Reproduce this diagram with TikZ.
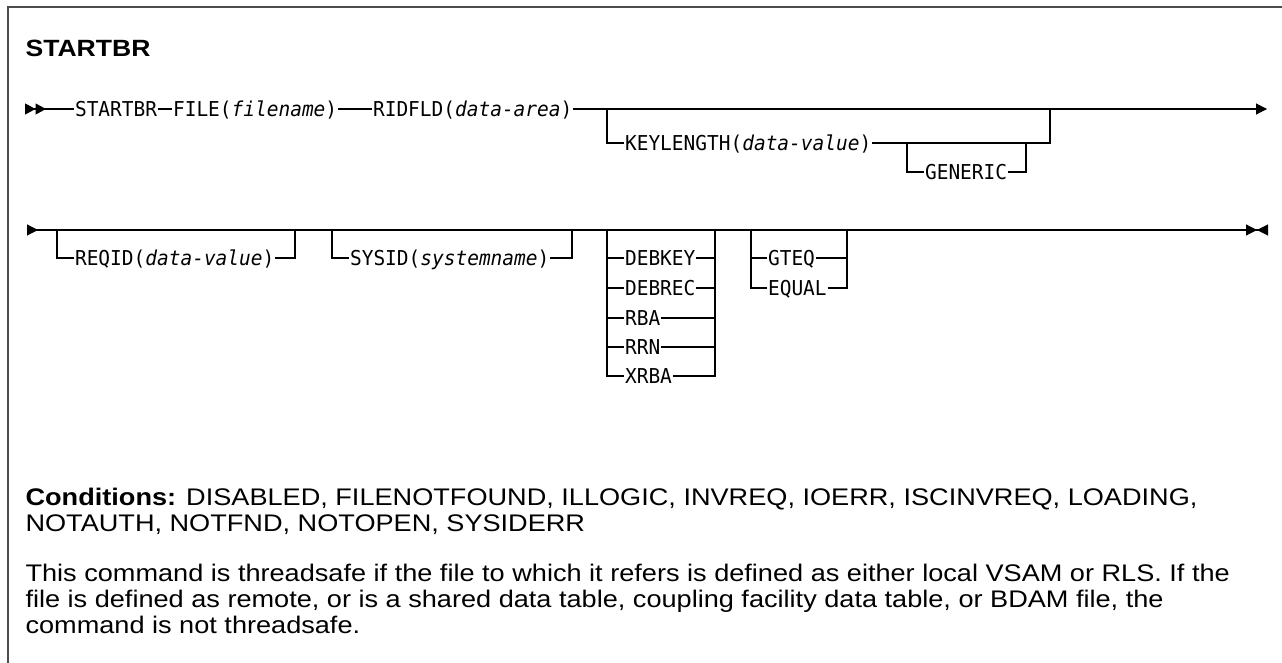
\documentclass[tikz,border=0pt]{standalone}
\usepackage{fontspec}
\setmainfont[FakeStretch=1.13]{Liberation Sans}
\newfontfamily\synfont[FakeStretch=0.95]{DejaVu Sans Mono}
\usetikzlibrary{arrows.meta,positioning,calc}

\begin{document}
\begin{tikzpicture}[x=1pt,y=-1pt,line width=1.1pt,
  kw/.style={font={\synfont\fontsize{20.5}{22}\selectfont},inner xsep=0.5pt,inner ysep=0pt,
    text height=15pt,text depth=0pt,anchor=west},
  prose/.style={anchor=north west,align=left,inner sep=0pt,font={\fontsize{24}{26}\selectfont}}]
\useasboundingbox (0,0) rectangle (1282,663);
% frame
\coordinate (frameBL) at (8,663);
\coordinate (frameTR) at (1282,7);
\draw[line width=1.5pt,black!70] (frameBL) |- (frameTR);
\node[anchor=west,inner sep=0pt,font=\bfseries\fontsize{23.5}{26}\selectfont] (title) at (25,48) {STARTBR};

% first line
\coordinate (r1start) at (25,109);
\coordinate (r1end) at (1267,109);
\node[kw] (startbr) at (74,109) {STARTBR};
\node[kw] (file) at (172,109) {FILE(\textit{filename})};
\node[kw] (ridfld) at (372,109) {RIDFLD(\textit{data-area})};
\draw[{Triangle[reversed,length=10.5pt,width=11pt] Triangle[reversed,length=10.5pt,width=11pt]}-] (r1start) -- (startbr.west);
\draw (startbr.east) -- (file.west);
\draw (file.east) -- (ridfld.west);
\draw[-{Triangle[length=11pt,width=11pt]}] (ridfld.east) -- (r1end);
% optional KEYLENGTH with GENERIC
\coordinate (klIn) at (607,109);
\coordinate (klOut) at (1050,109);
\node[kw] (keylen) at (624,143) {KEYLENGTH(\textit{data-value})};
\draw (klIn) |- (keylen.west);
\draw (keylen.east) -| (klOut);
\coordinate (genIn) at (907,143);
\coordinate (genOut) at (1026,143);
\node[kw] (generic) at (924,172) {GENERIC};
\draw (genIn) |- (generic.west);
\draw (generic.east) -| (genOut);

% second line
\coordinate (r2start) at (27,230);
\coordinate (r2end) at (1268,230);
\draw[{Triangle[reversed,length=11pt,width=11pt]}-{Triangle[length=11pt,width=11pt] Triangle[reversed,length=11pt,width=11pt]}] (r2start) -- (r2end);
\coordinate (stubA) at (853,230);
\coordinate (stubB) at (875,230);
\draw[line width=2.2pt] (stubA) -- (stubB);
\coordinate (rqIn) at (57,230);
\coordinate (rqOut) at (295,230);
\node[kw] (reqid) at (74,258) {REQID(\textit{data-value})};
\draw (rqIn) |- (reqid.west);
\draw (reqid.east) -| (rqOut);
\coordinate (syIn) at (332,230);
\coordinate (syOut) at (572,230);
\node[kw] (sysid) at (349,258) {SYSID(\textit{systemname})};
\draw (syIn) |- (sysid.west);
\draw (sysid.east) -| (syOut);
\coordinate (dbIn) at (607,230);
\coordinate (dbOut) at (715,230);
\foreach \nm/\txt/\yy in {debkey/DEBKEY/258,debrec/DEBREC/288,rba/RBA/318,rrn/RRN/347,xrba/XRBA/376}{
  \node[kw] (\nm) at (624,\yy) {\txt};
  \draw (dbIn) |- (\nm.west);
  \draw (\nm.east) -| (dbOut);
}
\coordinate (gtIn) at (751,230);
\coordinate (gtOut) at (847,230);
\foreach \nm/\txt/\yy in {gteq/GTEQ/258,equal/EQUAL/288}{
  \node[kw] (\nm) at (767,\yy) {\txt};
  \draw (gtIn) |- (\nm.west);
  \draw (\nm.east) -| (gtOut);
}

% conditions and note
\node[prose] (conds) at (25,488)
  {\textbf{Conditions:} DISABLED, FILENOTFOUND, ILLOGIC, INVREQ, IOERR, ISCINVREQ, LOADING,\\
   NOTAUTH, NOTFND, NOTOPEN, SYSIDERR};
\node[prose] (note) at (25,564)
  {This command is threadsafe if the file to which it refers is defined as either local VSAM or RLS. If the\\
   file is defined as remote, or is a shared data table, coupling facility data table, or BDAM file, the\\
   command is not threadsafe.};
\end{tikzpicture}
\end{document}
